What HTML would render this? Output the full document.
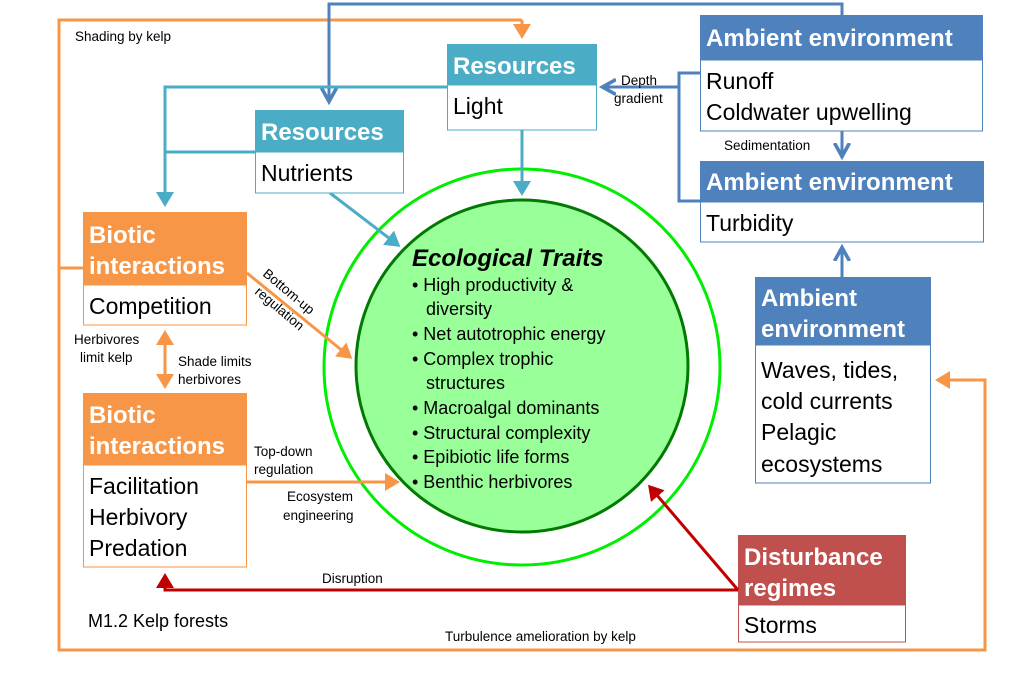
<!DOCTYPE html>
<html><head><meta charset="utf-8"><style>
html,body{margin:0;padding:0;background:#fff;}
svg{display:block;font-family:"Liberation Sans",sans-serif;}
.h{fill:#fff;font-weight:bold;font-size:24px;}
.b{fill:#000;font-size:23px;}
.s{fill:#000;font-size:13.5px;}
.t{fill:#000;font-size:18px;}
</style></head><body>
<svg width="1011" height="700" viewBox="0 0 1011 700">
<defs>
<marker id="ao" markerWidth="6" markerHeight="6" refX="4" refY="3" orient="auto" markerUnits="strokeWidth"><path d="M0,0 L5,3 L0,6 z" fill="#f79646"/></marker>
<marker id="at" markerWidth="6" markerHeight="6" refX="4" refY="3" orient="auto" markerUnits="strokeWidth"><path d="M0,0 L5,3 L0,6 z" fill="#4bacc6"/></marker>
<marker id="ar" markerWidth="6" markerHeight="6" refX="4" refY="3" orient="auto" markerUnits="strokeWidth"><path d="M0,0 L5,3 L0,6 z" fill="#c00000"/></marker>
<marker id="ab" markerWidth="6" markerHeight="6" refX="4" refY="3" orient="auto" markerUnits="strokeWidth"><path d="M0,0.5 L4.5,3 L0,5.5" fill="none" stroke="#4f81bd" stroke-width="1.2"/></marker>
</defs>

<!-- circles -->
<circle cx="522" cy="367" r="198" fill="#fff" stroke="#00ee00" stroke-width="3"/>
<circle cx="522" cy="366" r="166" fill="#99ff99" stroke="#007a00" stroke-width="3"/>

<!-- orange outer loop -->
<polyline points="522,20 59,20 59,650 985,650 985,380 938,380" fill="none" stroke="#f79646" stroke-width="3" marker-end="url(#ao)"/>
<line x1="522" y1="20" x2="522" y2="36" stroke="#f79646" stroke-width="3" marker-end="url(#ao)"/>
<line x1="59" y1="268" x2="83" y2="268" stroke="#f79646" stroke-width="3"/>

<!-- dark blue top line -->
<polyline points="842,15 842,4 329,4 329,100" fill="none" stroke="#4f81bd" stroke-width="3" marker-end="url(#ab)"/>

<!-- teal lines -->
<polyline points="447,87 165,87 165,204" fill="none" stroke="#4bacc6" stroke-width="3" marker-end="url(#at)"/>
<line x1="255" y1="152" x2="165" y2="152" stroke="#4bacc6" stroke-width="3"/>
<line x1="522" y1="130" x2="522" y2="193" stroke="#4bacc6" stroke-width="3" marker-end="url(#at)"/>
<line x1="330" y1="193" x2="398" y2="245" stroke="#4bacc6" stroke-width="3" marker-end="url(#at)"/>

<text x="412" y="266" font-size="24" font-weight="bold" font-style="italic">Ecological Traits</text>
<g class="t">
<text x="412" y="291">•  High productivity &amp;</text>
<text x="426" y="315">diversity</text>
<text x="412" y="340">•  Net autotrophic energy</text>
<text x="412" y="365">•  Complex trophic</text>
<text x="426" y="389">structures</text>
<text x="412" y="414">•  Macroalgal dominants</text>
<text x="412" y="439">•  Structural complexity</text>
<text x="412" y="463">•  Epibiotic life forms</text>
<text x="412" y="488">•  Benthic herbivores</text>
</g>

<!-- Resources Light -->
<rect x="447" y="44" width="150" height="41" fill="#4bacc6"/>
<rect x="447.5" y="85" width="149" height="45" fill="#fff" stroke="#4bacc6"/>
<text class="h" x="453" y="74">Resources</text>
<text class="b" x="453" y="114">Light</text>

<!-- Resources Nutrients -->
<rect x="255" y="110" width="149" height="42" fill="#4bacc6"/>
<rect x="255.5" y="152" width="148" height="41" fill="#fff" stroke="#4bacc6"/>
<text class="h" x="261" y="140">Resources</text>
<text class="b" x="261" y="181">Nutrients</text>

<!-- Ambient 1 -->
<rect x="700" y="15" width="283" height="45" fill="#4f81bd"/>
<rect x="700.5" y="60" width="282" height="71" fill="#fff" stroke="#4f81bd"/>
<text class="h" x="706" y="46">Ambient environment</text>
<text class="b" x="706" y="89">Runoff</text>
<text class="b" x="706" y="120">Coldwater upwelling</text>

<!-- Ambient 2 -->
<rect x="700" y="161" width="284" height="41" fill="#4f81bd"/>
<rect x="700.5" y="202" width="283" height="40" fill="#fff" stroke="#4f81bd"/>
<text class="h" x="706" y="190">Ambient environment</text>
<text class="b" x="706" y="231">Turbidity</text>

<!-- blue connectors -->
<polyline points="700,73 679,73 679,201 700,201" fill="none" stroke="#4f81bd" stroke-width="3"/>
<line x1="679" y1="87" x2="604" y2="87" stroke="#4f81bd" stroke-width="3" marker-end="url(#ab)"/>
<text class="s" x="621" y="85">Depth</text>
<text class="s" x="614" y="103">gradient</text>
<line x1="842" y1="131" x2="842" y2="155" stroke="#4f81bd" stroke-width="3" marker-end="url(#ab)"/>
<text class="s" x="724" y="150">Sedimentation</text>
<line x1="842" y1="277" x2="842" y2="249" stroke="#4f81bd" stroke-width="3" marker-end="url(#ab)"/>

<!-- Ambient 3 -->
<rect x="755" y="277" width="176" height="68" fill="#4f81bd"/>
<rect x="755.5" y="345" width="175" height="138" fill="#fff" stroke="#4f81bd"/>
<text class="h" x="761" y="306">Ambient</text>
<text class="h" x="761" y="337">environment</text>
<text class="b" x="761" y="378">Waves, tides,</text>
<text class="b" x="761" y="409">cold currents</text>
<text class="b" x="761" y="440">Pelagic</text>
<text class="b" x="761" y="472">ecosystems</text>

<!-- Biotic 1 -->
<rect x="83" y="212" width="164" height="73" fill="#f79646"/>
<rect x="83.5" y="285" width="163" height="40" fill="#fff" stroke="#f79646"/>
<text class="h" x="89" y="243">Biotic</text>
<text class="h" x="89" y="274">interactions</text>
<text class="b" x="89" y="314">Competition</text>

<!-- Biotic 2 -->
<rect x="83" y="393" width="164" height="72" fill="#f79646"/>
<rect x="83.5" y="465" width="163" height="102" fill="#fff" stroke="#f79646"/>
<text class="h" x="89" y="423">Biotic</text>
<text class="h" x="89" y="454">interactions</text>
<text class="b" x="89" y="494">Facilitation</text>
<text class="b" x="89" y="525">Herbivory</text>
<text class="b" x="89" y="556">Predation</text>

<!-- orange connectors -->
<line x1="165" y1="345" x2="165" y2="333" stroke="#f79646" stroke-width="3" marker-end="url(#ao)"/>
<line x1="165" y1="345" x2="165" y2="386" stroke="#f79646" stroke-width="3" marker-end="url(#ao)"/>
<text class="s" x="74" y="344">Herbivores</text>
<text class="s" x="80" y="362">limit kelp</text>
<text class="s" x="178" y="366">Shade limits</text>
<text class="s" x="178" y="384">herbivores</text>
<line x1="247" y1="273" x2="350" y2="357" stroke="#f79646" stroke-width="3" marker-end="url(#ao)"/>
<text class="s" transform="translate(262,275) rotate(40)">Bottom-up</text>
<text class="s" transform="translate(254,293) rotate(40)">regulation</text>
<line x1="247" y1="482" x2="397" y2="482" stroke="#f79646" stroke-width="3" marker-end="url(#ao)"/>
<text class="s" x="254" y="456">Top-down</text>
<text class="s" x="254" y="474">regulation</text>
<text class="s" x="287" y="501">Ecosystem</text>
<text class="s" x="283" y="520">engineering</text>

<!-- Disturbance -->
<rect x="738" y="535" width="168" height="70" fill="#c0504d"/>
<rect x="738.5" y="605" width="167" height="37" fill="#fff" stroke="#c0504d"/>
<text class="h" x="744" y="565">Disturbance</text>
<text class="h" x="744" y="596">regimes</text>
<text class="b" x="744" y="633">Storms</text>

<polyline points="738,590 165,590 165,576" fill="none" stroke="#c00000" stroke-width="3" marker-end="url(#ar)"/>
<line x1="738" y1="590" x2="650" y2="487" stroke="#c00000" stroke-width="3" marker-end="url(#ar)"/>
<text class="s" x="322" y="583">Disruption</text>

<text x="88" y="627" font-size="18">M1.2 Kelp forests</text>
<text class="s" x="445" y="641">Turbulence amelioration by kelp</text>
<text class="s" x="75" y="41">Shading by kelp</text>
</svg>
</body></html>
